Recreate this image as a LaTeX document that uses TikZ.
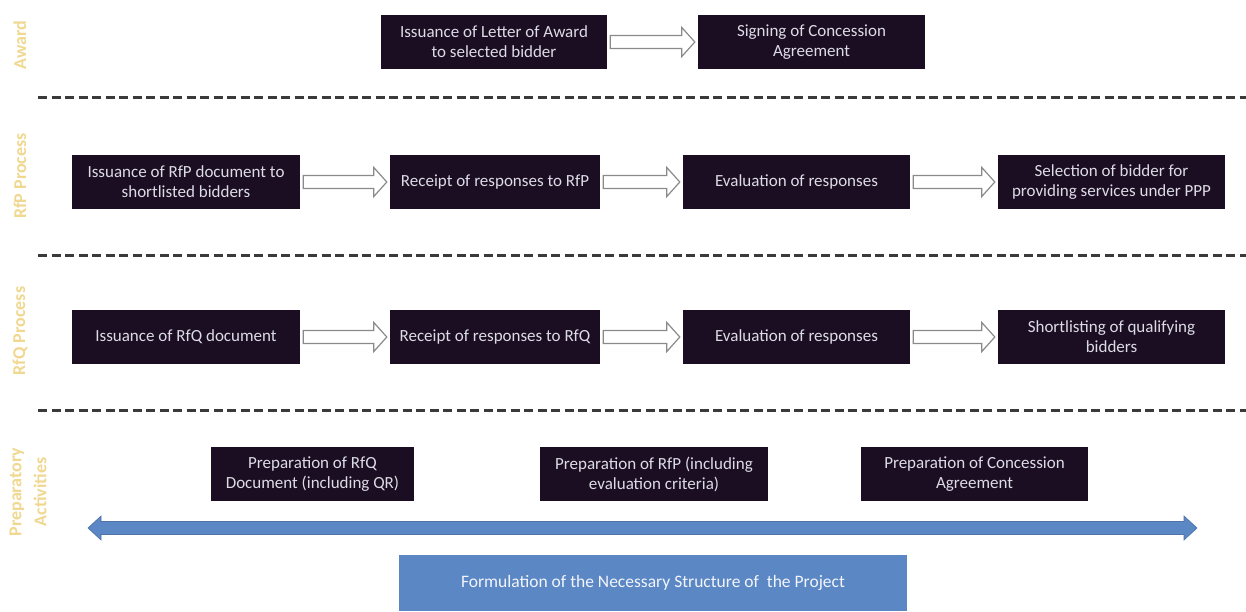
\documentclass[tikz,border=0pt]{standalone}
\usepackage{fontspec}
\setmainfont{Carlito}
\usetikzlibrary{calc}
\definecolor{boxbg}{HTML}{1C0E22}
\definecolor{boxtx}{HTML}{DCDCE6}
\definecolor{blueA}{HTML}{5B87C5}
\definecolor{lbl}{HTML}{F0D890}
\definecolor{dashc}{HTML}{3A3A3A}
\definecolor{arrc}{HTML}{8A8A8A}
\tikzset{
  procbox/.style={fill=boxbg, text=boxtx, minimum height=54pt, align=center,
    font=\fontsize{17}{20}\selectfont, inner sep=0pt},
  bluebox/.style={fill=blueA, text=white!92!blueA, minimum height=56pt, align=center,
    font=\fontsize{17.5}{20}\selectfont, inner sep=0pt},
  sidelabel/.style={text=lbl, rotate=90, align=center, font=\fontsize{18}{25}\selectfont\bfseries},
  sepline/.style={draw=dashc, line width=3pt, dash pattern=on 9pt off 4.5pt},
  harrow/.style={draw=arrc, fill=white, line width=1.2pt, line join=miter},
  darrow/.style={fill=blueA, draw=blueA!85!black, line width=0.6pt}
}
\newcommand\blockarr[2]{%
  \draw[harrow] let \p1=($(#1.east)+(3,0)$), \p2=($(#2.west)+(-3,0)$) in
    (\x1,\y1+6.5pt) -- (\x2-13pt,\y1+6.5pt) -- (\x2-13pt,\y1+14.5pt) -- (\x2,\y1)
    -- (\x2-13pt,\y1-14.5pt) -- (\x2-13pt,\y1-6.5pt) -- (\x1,\y1-6.5pt) -- cycle;}
\begin{document}
\begin{tikzpicture}[x=1pt,y=-1pt]
\useasboundingbox[fill=white] (0,0) rectangle (1246,611);

% side labels
\node[sidelabel] (lAward) at (20,45) {Award};
\node[sidelabel] (lRfP) at (20,176) {RfP Process};
\node[sidelabel] (lRfQ) at (20,331) {RfQ Process};
\node[sidelabel] (lPrep) at (28,492) {Preparatory\\Activities};

% separators
\coordinate (s1a) at (38,97);  \coordinate (s1b) at (1246,97);
\coordinate (s2a) at (38,255); \coordinate (s2b) at (1246,255);
\coordinate (s3a) at (38,410); \coordinate (s3b) at (1246,410);
\draw[sepline] (s1a) -- (s1b);
\draw[sepline] (s2a) -- (s2b);
\draw[sepline] (s3a) -- (s3b);

% award row
\node[procbox, minimum width=226pt] (a1) at (494,42) {Issuance of Letter of Award\\to selected bidder};
\node[procbox, minimum width=227pt] (a2) at (811.5,42) {Signing of Concession\\Agreement};
\blockarr{a1}{a2}

% RfP row
\node[procbox, minimum width=228pt] (p1) at (186,182) {Issuance of RfP document to\\shortlisted bidders};
\node[procbox, minimum width=210pt] (p2) at (495,182) {Receipt of responses to RfP};
\node[procbox, minimum width=227pt] (p3) at (796.5,182) {Evaluation of responses};
\node[procbox, minimum width=227pt] (p4) at (1111.5,182) {Selection of bidder for\\providing services under PPP};
\blockarr{p1}{p2}
\blockarr{p2}{p3}
\blockarr{p3}{p4}

% RfQ row
\node[procbox, minimum width=228pt] (q1) at (186,337) {Issuance of RfQ document};
\node[procbox, minimum width=210pt] (q2) at (495,337) {Receipt of responses to RfQ};
\node[procbox, minimum width=227pt] (q3) at (796.5,337) {Evaluation of responses};
\node[procbox, minimum width=227pt] (q4) at (1111.5,337) {Shortlisting of qualifying\\bidders};
\blockarr{q1}{q2}
\blockarr{q2}{q3}
\blockarr{q3}{q4}

% preparatory row
\node[procbox, minimum width=203pt] (r1) at (312.5,474) {Preparation of RfQ\\Document (including QR)};
\node[procbox, minimum width=228pt] (r2) at (654,474) {Preparation of RfP (including\\evaluation criteria)};
\node[procbox, minimum width=227pt] (r3) at (974.5,474) {Preparation of Concession\\Agreement};

% double arrow
\coordinate (dl) at (88,528);
\coordinate (dr) at (1197,528);
\fill[darrow] let \p1=(dl), \p2=(dr) in
  (\x1,\y1) -- (\x1+13pt,\y1+12pt) -- (\x1+13pt,\y1+6.5pt) -- (\x2-13pt,\y1+6.5pt)
  -- (\x2-13pt,\y1+12pt) -- (\x2,\y1) -- (\x2-13pt,\y1-12pt) -- (\x2-13pt,\y1-6.5pt)
  -- (\x1+13pt,\y1-6.5pt) -- (\x1+13pt,\y1-12pt) -- cycle;

% base box
\node[bluebox, minimum width=508pt] (f) at (653,583) {Formulation of the Necessary Structure of\ \ the Project};
\end{tikzpicture}
\end{document}
